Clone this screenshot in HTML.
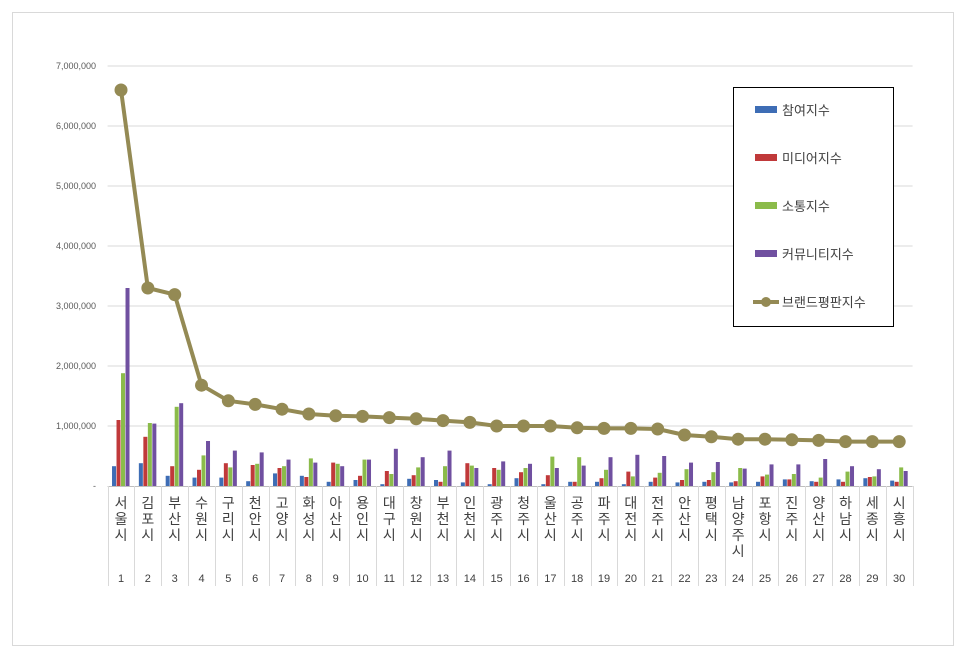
<!DOCTYPE html>
<html><head><meta charset="utf-8"><style>
body{margin:0;background:#fff;width:966px;height:656px;overflow:hidden}
svg{font-family:"Liberation Sans","Noto Sans CJK KR",sans-serif}
</style></head><body>
<svg id="c" width="966" height="656"></svg>
<script>
const cities=["서울시","김포시","부산시","수원시","구리시","천안시","고양시","화성시","아산시","용인시","대구시","창원시","부천시","인천시","광주시","청주시","울산시","공주시","파주시","대전시","전주시","안산시","평택시","남양주시","포항시","진주시","양산시","하남시","세종시","시흥시"];
const participation=[0.33,0.38,0.17,0.14,0.14,0.08,0.21,0.17,0.07,0.1,0.03,0.12,0.1,0.06,0.03,0.13,0.03,0.07,0.07,0.03,0.07,0.06,0.07,0.06,0.07,0.11,0.08,0.11,0.13,0.09];
const media=[1.1,0.82,0.33,0.27,0.38,0.35,0.3,0.15,0.39,0.17,0.25,0.18,0.07,0.38,0.3,0.23,0.18,0.07,0.13,0.24,0.14,0.1,0.1,0.08,0.16,0.11,0.07,0.07,0.15,0.07];
const social=[1.88,1.05,1.32,0.51,0.31,0.37,0.33,0.46,0.37,0.44,0.2,0.31,0.33,0.34,0.27,0.3,0.49,0.48,0.27,0.16,0.22,0.28,0.23,0.3,0.19,0.2,0.14,0.24,0.16,0.31];
const community=[3.3,1.04,1.38,0.75,0.59,0.56,0.44,0.39,0.33,0.44,0.62,0.48,0.59,0.3,0.41,0.37,0.3,0.34,0.48,0.52,0.5,0.39,0.4,0.29,0.36,0.36,0.45,0.33,0.28,0.25];
const brand=[6.6,3.3,3.19,1.68,1.42,1.36,1.28,1.2,1.17,1.16,1.14,1.12,1.09,1.06,1.0,1.0,1.0,0.97,0.96,0.96,0.95,0.85,0.82,0.78,0.78,0.77,0.76,0.74,0.74,0.74];
const yTicks=[0,1,2,3,4,5,6,7];
const yTickLabels=["-","1,000,000","2,000,000","3,000,000","4,000,000","5,000,000","6,000,000","7,000,000"];
const series=[[participation,"#3e6db5","참여지수"],[media,"#c0393a","미디어지수"],[social,"#8bbb4a","소통지수"],[community,"#7050a0","커뮤니티지수"]];

const NS="http://www.w3.org/2000/svg",svg=document.getElementById('c');
function mk(t,a,p){const e=document.createElementNS(NS,t);for(const k in a)e.setAttribute(k,a[k]);(p||svg).appendChild(e);return e;}
const x0=107.6,x1=912.6,step=(x1-x0)/cities.length;
const y=v=>486-v*60;
const xc=i=>x0+step*(i+0.5);

const frame=mk('rect',{x:12.5,y:12.5,width:941,height:633,fill:'none',stroke:'#d9d9d9'});

yTicks.forEach((t,i)=>{
  if(t>0){const g=mk('line',{x1:x0,x2:x1,y1:y(t),y2:y(t),stroke:'#d9d9d9'});
  }
  const l=mk('text',{x:96,y:y(t)+3,'text-anchor':'end','font-size':9,fill:'#595959'});l.textContent=yTickLabels[i];
  
});
const ax=mk('line',{x1:x0,x2:x1,y1:486.5,y2:486.5,stroke:'#bfbfbf'});

for(let i=0;i<=cities.length;i++){
  const sx=Math.round(x0+step*i)+0.5;
  const s=mk('line',{x1:sx,x2:sx,y1:486,y2:586,stroke:'#d9d9d9'});
  
}
cities.forEach((c,i)=>{
  const t=mk('text',{x:xc(i),'text-anchor':'middle','font-size':14,fill:'#404040'});
  
  [...c].forEach((ch,k)=>{const ts=mk('tspan',{x:xc(i),y:508+k*16},t);ts.textContent=ch;});
  const n=mk('text',{x:xc(i),y:582,'text-anchor':'middle','font-size':11,fill:'#404040'});n.textContent=i+1;
  
  series.forEach((s,j)=>{
    const v=s[0][i];
    const b=mk('rect',{x:xc(i)-9+j*4.5,y:y(v),width:4,height:486-y(v),fill:s[1]});
    
  });
});
const pl=mk('polyline',{points:brand.map((v,i)=>xc(i)+','+y(v)).join(' '),fill:'none',stroke:'#948a54','stroke-width':4,'stroke-linejoin':'round'});

brand.forEach((v,i)=>{const d=mk('circle',{cx:xc(i),cy:y(v),r:6.5,fill:'#948a54'});
});

const lg=mk('rect',{x:733.5,y:87.5,width:160,height:239,fill:'#fff',stroke:'#000'});

series.forEach((s,j)=>{
  const ly=110+j*48;
  const sw=mk('rect',{x:755,y:ly-4,width:22,height:7,fill:s[1]});
  
  const t=mk('text',{x:782,y:ly+5,'font-size':13,fill:'#404040'});t.textContent=s[2];
  
});
const ll=mk('line',{x1:753,x2:779,y1:302,y2:302,stroke:'#948a54','stroke-width':4});

const lc=mk('circle',{cx:766,cy:302,r:5,fill:'#948a54'});

const lt=mk('text',{x:782,y:307,'font-size':13,fill:'#404040'});lt.textContent='브랜드평판지수';

</script>
</body></html>
